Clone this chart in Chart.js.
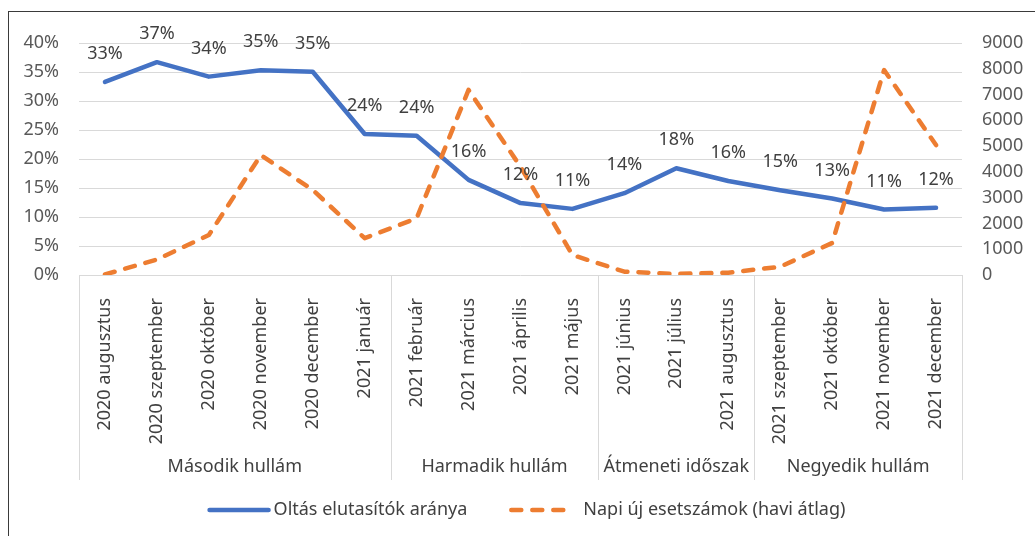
<!DOCTYPE html>
<html>
<head>
<meta charset="utf-8">
<style>
    html, body { margin: 0; padding: 0; background: #fff; overflow: hidden; }
    #frame { position: absolute; left: 8px; top: 11px; width: 1100px; height: 600px;
             border-left: 1.5px solid #3a3a3a; border-top: 1.5px solid #3a3a3a; }
    #wrap { position: absolute; left: 0; top: 0; width: 1035px; height: 536px; }
</style>
<script src="https://cdn.jsdelivr.net/npm/chart.js@4.4.1/dist/chart.umd.min.js"></script>
</head>
<body>
<div id="frame"></div>
<div id="wrap"><canvas id="chart"></canvas></div>
<script>
const months = [
    '2020 augusztus', '2020 szeptember', '2020 október', '2020 november', '2020 december',
    '2021 január', '2021 február', '2021 március', '2021 április', '2021 május',
    '2021 június', '2021 július', '2021 augusztus', '2021 szeptember', '2021 október',
    '2021 november', '2021 december'
];
const groupNames = ['Második hullám', 'Harmadik hullám', 'Átmeneti időszak', 'Negyedik hullám'];
const groupSizes = [6, 4, 3, 4];

// share of vaccine refusers (%)
const refusalShare = [33.3, 36.7, 34.2, 35.3, 35.05, 24.3, 24.0, 16.4, 12.4, 11.4, 14.1, 18.4, 16.2, 14.6, 13.2, 11.3, 11.6];
// daily new cases (monthly average)
const dailyCases = [20, 600, 1550, 4650, 3300, 1430, 2200, 7180, 4200, 775, 130, 40, 90, 320, 1240, 7950, 5040];

const seriesNames = ['Oltás elutasítók aránya', 'Napi új esetszámok (havi átlag)'];

const BLUE = '#4472C4';
const ORANGE = '#ED7D31';
const FONT = "'Noto Sans', sans-serif";

Chart.defaults.font.family = FONT;
Chart.defaults.font.size = 18;
Chart.defaults.color = '#595959';

/**
 * Percent labels above the refusal line.
 */
const pointLabels = {
    id: 'pointLabels',
    afterDatasetsDraw(chart) {
        const { ctx } = chart;
        const meta = chart.getDatasetMeta(0);
        ctx.save();
        ctx.font = '18px ' + FONT;
        ctx.fillStyle = '#404040';
        ctx.textAlign = 'center';
        ctx.textBaseline = 'middle';
        meta.data.forEach((pt, i) => {
            ctx.fillText(Math.round(refusalShare[i]) + '%', pt.x, pt.y - 28);
        });
        ctx.restore();
    }
};

/**
 * Second category level (waves) with separator lines, plus the legend.
 */
const groupAxis = {
    id: 'groupAxis',
    afterDraw(chart) {
        const { ctx, chartArea } = chart;
        const x = chart.scales.x;
        const half = (x.getPixelForValue(1) - x.getPixelForValue(0)) / 2;
        const top = chartArea.bottom;
        const bottom = top + 205;

        ctx.save();
        ctx.strokeStyle = '#d9d9d9';
        ctx.lineWidth = 1;
        ctx.font = '18px ' + FONT;
        ctx.fillStyle = '#404040';
        ctx.textAlign = 'center';
        ctx.textBaseline = 'middle';

        let start = 0;
        let x1 = 0;
        groupSizes.forEach((n, i) => {
            const x0 = x.getPixelForValue(start) - half;
            x1 = x.getPixelForValue(start + n - 1) + half;
            ctx.beginPath();
            ctx.moveTo(Math.round(x0) + 0.5, top);
            ctx.lineTo(Math.round(x0) + 0.5, bottom);
            ctx.stroke();
            ctx.fillText(groupNames[i], (x0 + x1) / 2, top + 192);
            start += n;
        });
        ctx.beginPath();
        ctx.moveTo(Math.round(x1) + 0.5, top);
        ctx.lineTo(Math.round(x1) + 0.5, bottom);
        ctx.stroke();

        // legend
        const legendY = top + 235;
        const lineLen = 63;
        const w1 = ctx.measureText(seriesNames[0]).width;
        const w2 = ctx.measureText(seriesNames[1]).width;
        const total = lineLen + 3 + w1 + 42 + lineLen + 11 + w2;
        let cx = (chartArea.left + chartArea.right) / 2 + 6 - total / 2;

        ctx.lineWidth = 4.5;
        ctx.lineCap = 'round';
        ctx.strokeStyle = BLUE;
        ctx.beginPath();
        ctx.moveTo(cx + 2, legendY);
        ctx.lineTo(cx + lineLen - 2, legendY);
        ctx.stroke();
        ctx.textAlign = 'left';
        ctx.fillStyle = '#404040';
        cx += lineLen + 3;
        ctx.fillText(seriesNames[0], cx, legendY);
        cx += w1 + 42;

        ctx.strokeStyle = ORANGE;
        ctx.setLineDash([10, 11]);
        ctx.beginPath();
        ctx.moveTo(cx + 2, legendY);
        ctx.lineTo(cx + lineLen, legendY);
        ctx.stroke();
        ctx.setLineDash([]);
        cx += lineLen + 11;
        ctx.fillText(seriesNames[1], cx, legendY);
        ctx.restore();
    }
};

const ctx = document.getElementById('chart').getContext('2d');

new Chart(ctx, {
    type: 'line',
    data: {
        labels: months,
        datasets: [{
            label: seriesNames[0],
            data: refusalShare,
            yAxisID: 'y',
            borderColor: BLUE,
            backgroundColor: BLUE,
            borderWidth: 4.5,
            borderCapStyle: 'round',
            borderJoinStyle: 'round',
            pointRadius: 0,
            tension: 0,
            order: 1
        }, {
            label: seriesNames[1],
            data: dailyCases,
            yAxisID: 'y2',
            borderColor: ORANGE,
            backgroundColor: ORANGE,
            borderWidth: 4.5,
            borderDash: [10, 11],
            borderCapStyle: 'round',
            borderJoinStyle: 'round',
            pointRadius: 0,
            tension: 0,
            order: 0
        }]
    },
    options: {
        responsive: true,
        maintainAspectRatio: false,
        animation: false,
        layout: { padding: { top: 43, bottom: 41, left: 0, right: 0 } },
        plugins: {
            legend: { display: false },
            tooltip: { enabled: false }
        },
        scales: {
            x: {
                offset: true,
                grid: { display: false },
                border: { display: false },
                ticks: {
                    autoSkip: false,
                    maxRotation: 90,
                    minRotation: 90,
                    padding: 15,
                    color: '#404040'
                },
                afterFit: (scale) => { scale.height = 220; }
            },
            y: {
                position: 'left',
                min: 0,
                max: 40,
                grid: { color: '#d9d9d9', lineWidth: 1, drawTicks: false },
                border: { display: false },
                ticks: {
                    stepSize: 5,
                    padding: 20,
                    callback: (v) => v + '%'
                },
                afterFit: (scale) => { scale.width = 79; }
            },
            y2: {
                position: 'right',
                min: 0,
                max: 9000,
                grid: { display: false, drawTicks: false },
                border: { display: false },
                ticks: {
                    stepSize: 1000,
                    padding: 20,
                    callback: (v) => String(v)
                },
                afterFit: (scale) => { scale.width = 73; }
            }
        }
    },
    plugins: [pointLabels, groupAxis]
});
</script>
</body>
</html>
